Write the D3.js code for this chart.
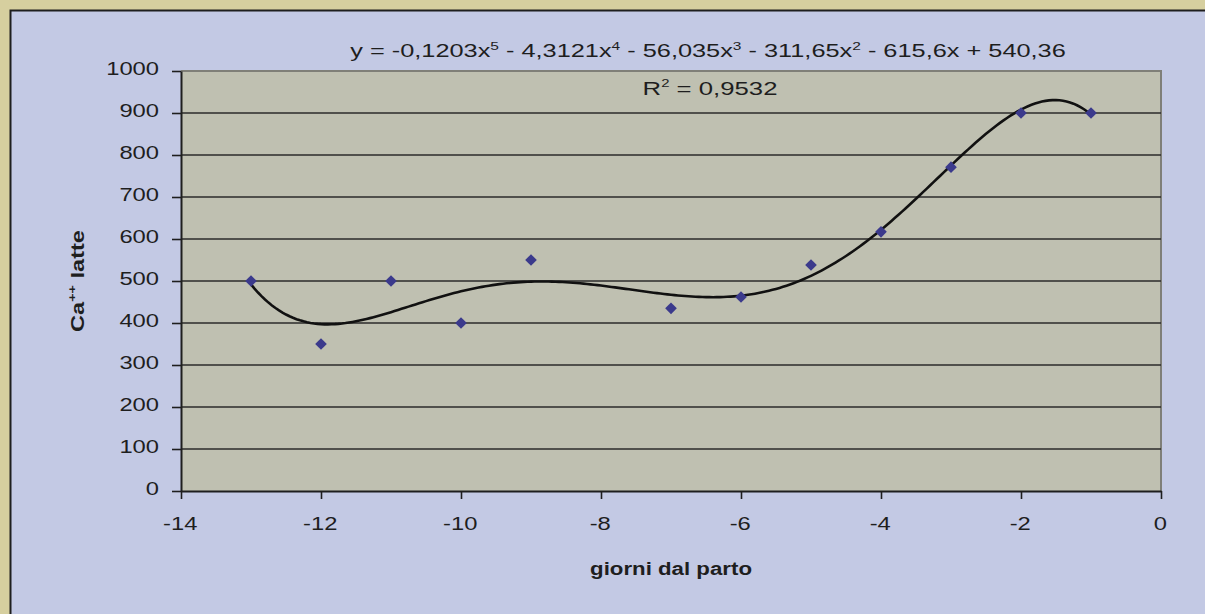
<!DOCTYPE html>
<html>
<head>
<meta charset="utf-8">
<script src="https://cdn.jsdelivr.net/npm/d3@7"></script>
<style>
  html, body { margin: 0; padding: 0; background: #d6cf9f; }
  svg { display: block; }
  text { font-family: "Liberation Sans", Arial, sans-serif; fill: #1e1e1e; }
</style>
</head>
<body>
<svg id="chart" width="1205" height="614"></svg>
<script>
// ---- data ----
const days = [-13, -12, -11, -10, -9, -7, -6, -5, -4, -3, -2, -1];
const caLatte = [500, 350, 500, 400, 550, 435, 462, 538, 617, 771, 900, 900];
const xTicks = [-14, -12, -10, -8, -6, -4, -2, 0];
const yTicks = [0, 100, 200, 300, 400, 500, 600, 700, 800, 900, 1000];
// trendline coefficients as printed on the chart (x^5 ... x^0)
const trendCoef = [-0.1203, -4.3121, -56.035, -311.65, -615.6, 540.36];
const xTitle = "giorni dal parto";

const svg = d3.select("#chart");
const W = 1205, H = 614;

// backgrounds
svg.append("rect").attr("x", 0).attr("y", 0).attr("width", W).attr("height", H).attr("fill", "#d6cf9f");
svg.append("rect").attr("x", 10).attr("y", 10).attr("width", W).attr("height", H).attr("fill", "#c3c9e4");
svg.append("path").attr("d", `M10.5,${H} V10.5 H${W}`).attr("fill", "none").attr("stroke", "#1e1e1e").attr("stroke-width", 2);

const x = d3.scaleLinear().domain([-14, 0]).range([181, 1161]);
const y = d3.scaleLinear().domain([0, 1000]).range([491, 71]);

// plot area
svg.append("rect").attr("x", x(-14)).attr("y", y(1000)).attr("width", x(0) - x(-14)).attr("height", y(0) - y(1000))
  .attr("fill", "#bfc0b1");
svg.append("path").attr("d", `M${x(-14)},${y(1000)} H${x(0)} V${y(0)}`).attr("fill", "none").attr("stroke", "#7f7f78").attr("stroke-width", 2);

// gridlines
svg.append("g").selectAll("line").data(yTicks.filter(v => v > 0 && v < 1000)).join("line")
  .attr("x1", x(-14)).attr("x2", x(0)).attr("y1", d => y(d)).attr("y2", d => y(d))
  .attr("stroke", "#2b2b2b").attr("stroke-width", 1.6);

const S = 1.25; // horizontal stretch of text
const fmt = d => String(d);
// y axis
const gy = svg.append("g").attr("transform", `translate(${x(-14)},0)`)
  .call(d3.axisLeft(y).tickValues(yTicks).tickFormat(fmt).tickSize(9).tickSizeOuter(0));
gy.select(".domain").attr("stroke", "#1e1e1e").attr("stroke-width", 2);
gy.selectAll(".tick line").attr("stroke", "#1e1e1e").attr("stroke-width", 1.6);
gy.selectAll(".tick text").attr("font-size", 19).attr("font-family", "Liberation Sans, Arial, sans-serif")
  .attr("fill", "#1e1e1e").attr("transform", `scale(${S},1)`).attr("x", -22 / S).attr("dy", "0.2em");

// x axis
const gx = svg.append("g").attr("transform", `translate(0,${y(0)})`)
  .call(d3.axisBottom(x).tickValues(xTicks).tickFormat(fmt).tickSize(8).tickSizeOuter(0));
gx.select(".domain").attr("stroke", "#1e1e1e").attr("stroke-width", 2);
gx.selectAll(".tick line").attr("stroke", "#1e1e1e").attr("stroke-width", 1.6);
gx.selectAll(".tick text").attr("font-size", 19).attr("font-family", "Liberation Sans, Arial, sans-serif")
  .attr("fill", "#1e1e1e").attr("transform", `scale(${S},1)`).attr("y", 26).attr("dy", "0.71em")
  .attr("x", -1);

// trendline
const poly = t => trendCoef.reduce((acc, c) => acc * t + c, 0);
const tx = d3.range(days[0], days[days.length - 1] + 0.0001, 0.05);
svg.append("path").datum(tx)
  .attr("d", d3.line().x(t => x(t)).y(t => y(poly(t))))
  .attr("fill", "none").attr("stroke", "#111").attr("stroke-width", 2.6);

// points
svg.append("g").selectAll("path").data(days.map((d, i) => [d, caLatte[i]])).join("path")
  .attr("d", d3.symbol().type(d3.symbolSquare).size(68))
  .attr("transform", d => `translate(${x(d[0])},${y(d[1])}) rotate(45)`)
  .attr("fill", "#3b3a8c");

// helper to fit text to a target width
function fitText(g, target) {
  const t = g.select("text");
  const w = t.node().getBBox().width;
  t.attr("transform", `scale(${target / w},1)`);
}

// equation
const eq = svg.append("g").attr("transform", `translate(708,57)`);
const eqT = eq.append("text").attr("text-anchor", "middle").attr("font-size", 18);
const parts = [["y = -0,1203x", "5"], [" - 4,3121x", "4"], [" - 56,035x", "3"], [" - 311,65x", "2"], [" - 615,6x + 540,36", null]];
let raised = false;
parts.forEach(([s, sup]) => {
  const ts = eqT.append("tspan").text(s);
  if (raised) { ts.attr("dy", 7); raised = false; }
  if (sup) { eqT.append("tspan").attr("font-size", 11).attr("dy", -7).text(sup); raised = true; }
});
fitText(eq, 716);

// R^2
const r2 = svg.append("g").attr("transform", `translate(710,95)`);
const r2T = r2.append("text").attr("text-anchor", "middle").attr("font-size", 19);
r2T.append("tspan").text("R");
r2T.append("tspan").attr("font-size", 11).attr("dy", -8).text("2");
r2T.append("tspan").attr("dy", 8).text(" = 0,9532");
fitText(r2, 135);

// x title
const xt = svg.append("g").attr("transform", `translate(671,575)`);
xt.append("text").attr("text-anchor", "middle").attr("font-size", 18).attr("font-weight", "bold").text(xTitle);
fitText(xt, 162);

// y title
const yt = svg.append("g").attr("transform", `translate(84,281) rotate(-90)`);
const ytT = yt.append("text").attr("text-anchor", "middle").attr("font-size", 18).attr("font-weight", "bold");
ytT.append("tspan").text("Ca");
ytT.append("tspan").attr("font-size", 11).attr("dy", -8).text("++");
ytT.append("tspan").attr("dy", 8).text(" latte");
fitText(yt, 102);
</script>
</body>
</html>
